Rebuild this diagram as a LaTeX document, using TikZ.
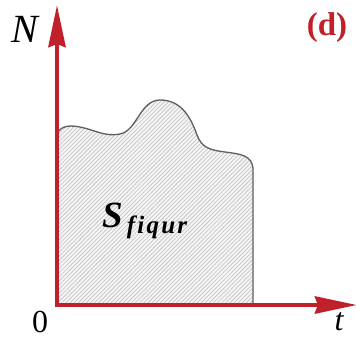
\documentclass[tikz,border=0pt]{standalone}
\usepackage{fontspec}
\setmainfont{Liberation Serif}
\usetikzlibrary{arrows.meta,patterns.meta}
\definecolor{axred}{RGB}{192,32,42}
\definecolor{edgegray}{RGB}{95,95,95}
\tikzset{
  axis/.style={axred, line width=4.5pt, -{Stealth[length=42pt,width=17pt,inset=3pt]}},
  region/.style={fill=gray!7, postaction={pattern={Lines[angle=45,distance=2.9pt,line width=0.75pt]}, pattern color=gray!45}},
  outline/.style={edgegray, line width=1.3pt},
  lbl/.style={inner sep=0pt, anchor=center}
}
\begin{document}
\begin{tikzpicture}[x=1pt,y=-1pt]
\useasboundingbox (0,0) rectangle (356,340);
\coordinate (O) at (57,305);
\coordinate (ytop) at (57,5);
\coordinate (xend) at (357,305);
\coordinate (Ob) at (55,305);
\coordinate (Ol) at (57,307);
% region
\path[region] (57,305) -- (57,138) .. controls (57,128) and (65,124) .. (80,127)
  .. controls (95,130) and (105,137) .. (120,134)
  .. controls (137,131) and (140,100) .. (160,100)
  .. controls (180,100) and (190,115) .. (197,135)
  .. controls (202,148) and (210,150) .. (225,152)
  .. controls (240,154) and (253,155) .. (253,170) -- (253,305) -- cycle;
\draw[outline] (57,138) .. controls (57,128) and (65,124) .. (80,127)
  .. controls (95,130) and (105,137) .. (120,134)
  .. controls (137,131) and (140,100) .. (160,100)
  .. controls (180,100) and (190,115) .. (197,135)
  .. controls (202,148) and (210,150) .. (225,152)
  .. controls (240,154) and (253,155) .. (253,170) -- (253,305);
% axes
\draw[axis] (Ol) -- (ytop);
\draw[axis] (Ob) -- (xend);
% labels
\node[lbl] (N) at (25,29) {\fontsize{40}{44}\selectfont\itshape N};
\node[lbl, text=axred] (d) at (327,28) {\fontsize{33}{36}\selectfont\bfseries (d)};
\node[lbl] (zero) at (40,322) {\fontsize{32}{36}\selectfont 0};
\node[lbl] (t) at (339,322) {\fontsize{32}{36}\selectfont\itshape t};
\node[lbl, anchor=base west] (S) at (102,227) {\bfseries\itshape\fontsize{37}{40}\selectfont S\hspace{4pt}\raisebox{-6pt}{\fontsize{25}{27}\selectfont\addfontfeature{LetterSpace=9}fiqur}};
\end{tikzpicture}
\end{document}
